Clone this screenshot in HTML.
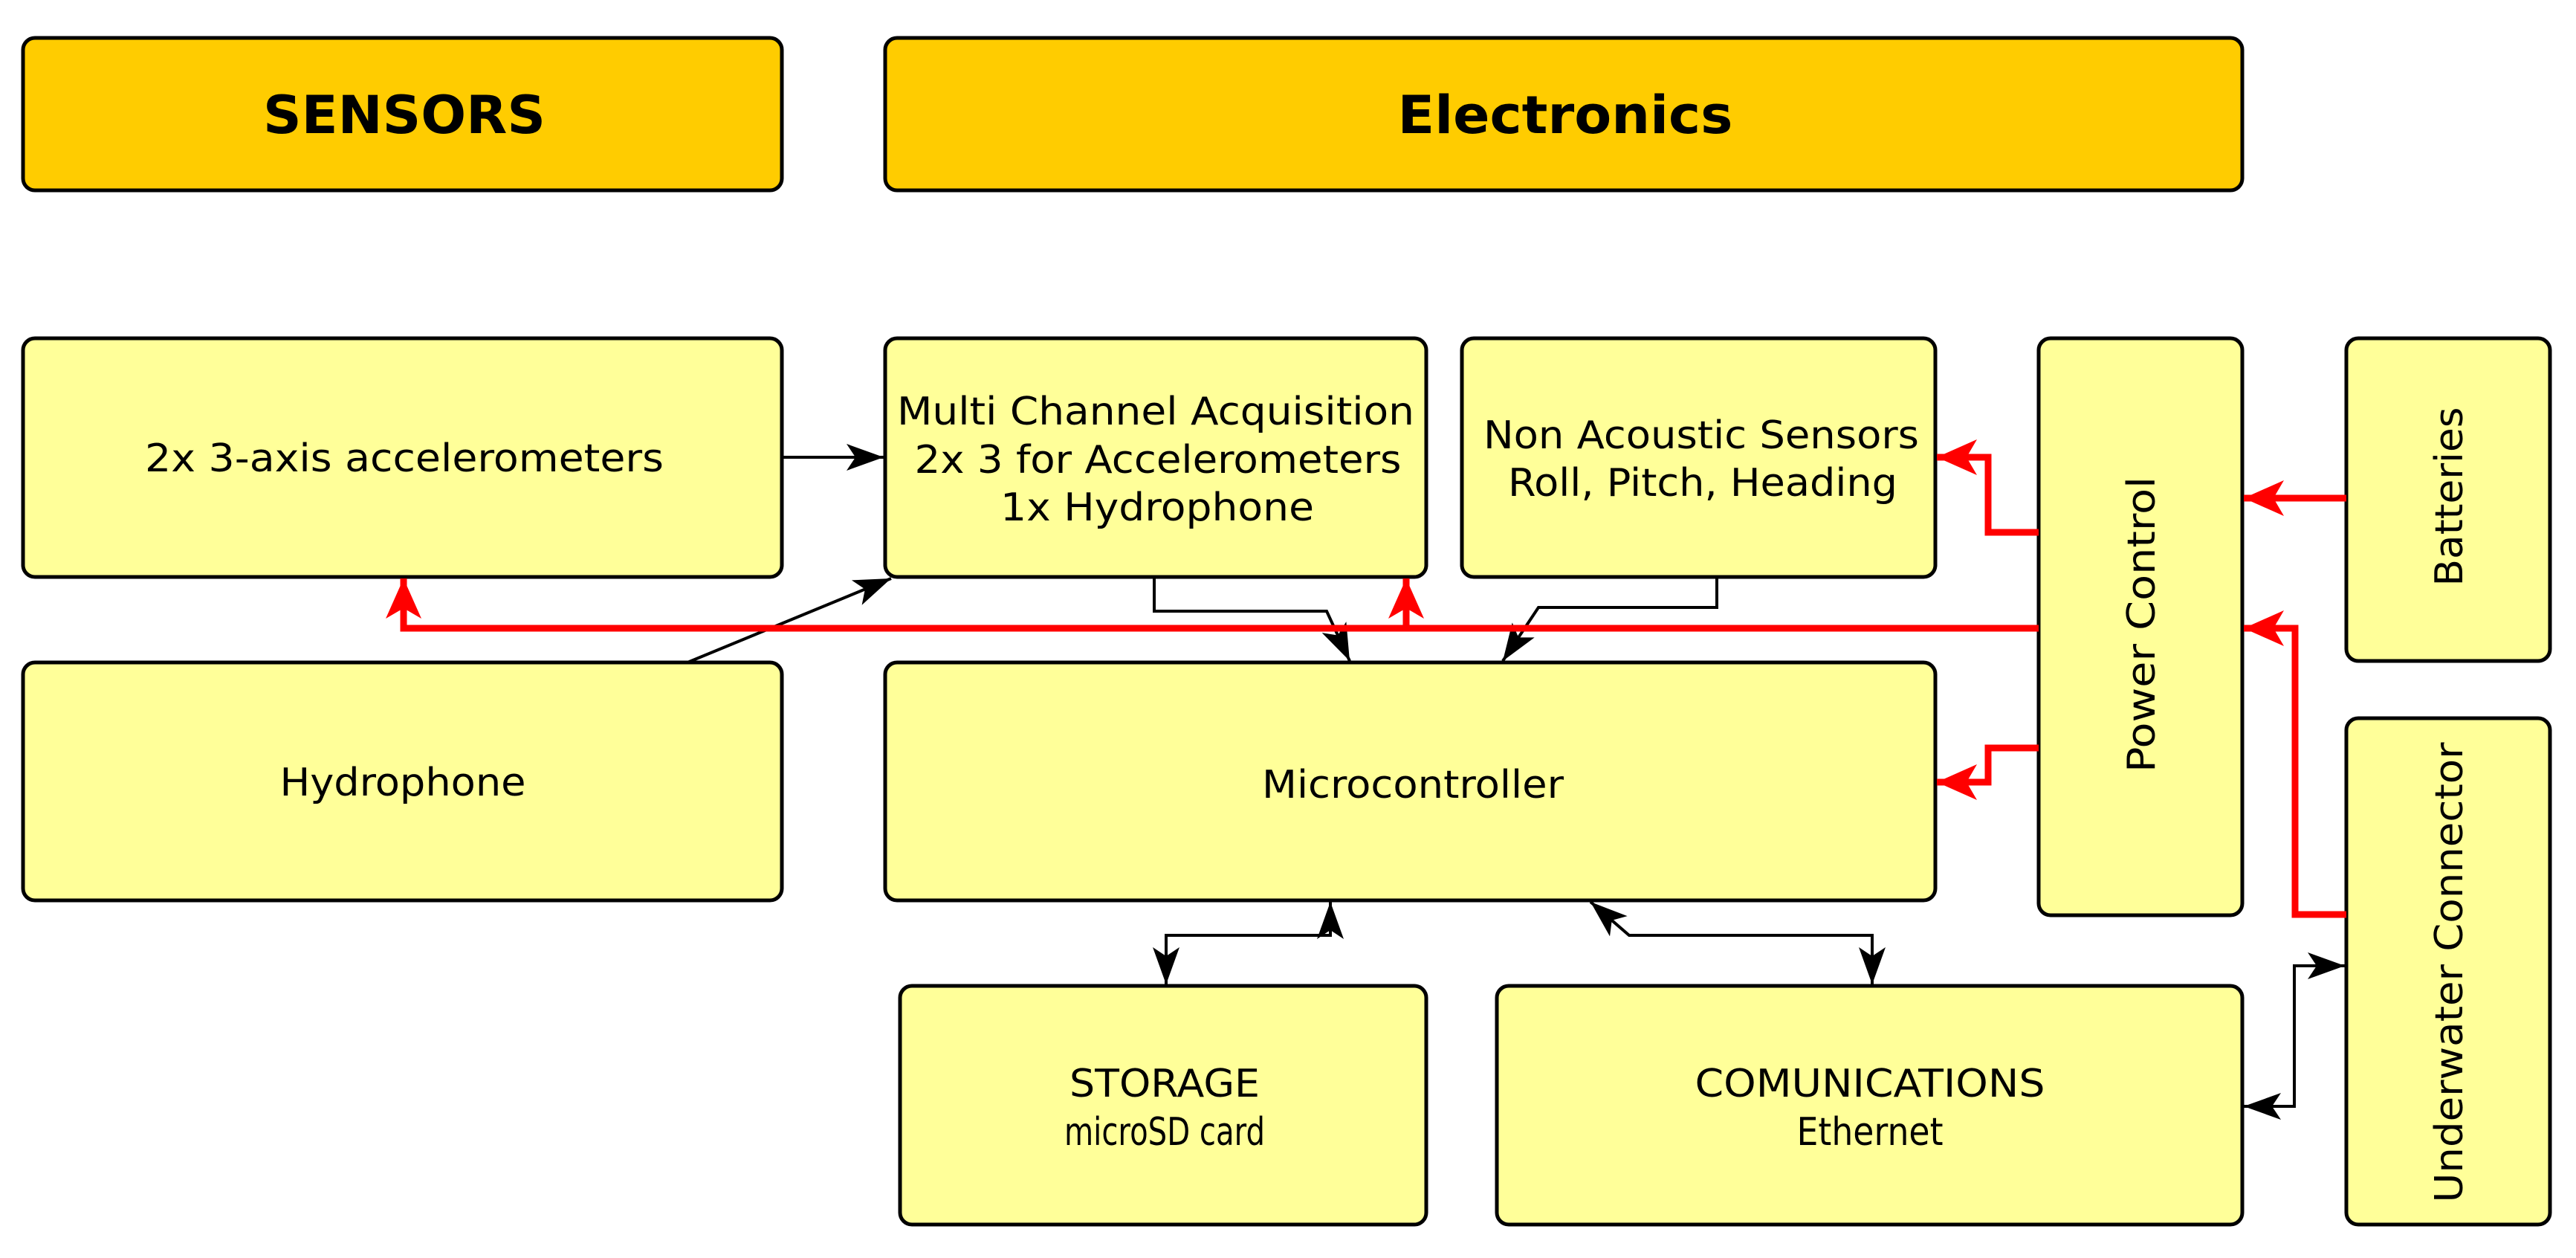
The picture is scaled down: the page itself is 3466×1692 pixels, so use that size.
<!DOCTYPE html>
<html><head><meta charset="utf-8"><style>html,body{margin:0;padding:0;background:#fff}svg{display:block}</style></head>
<body>
<svg width="3466" height="1692" viewBox="0 0 3466 1692" xmlns="http://www.w3.org/2000/svg" font-family="'DejaVu Sans','Liberation Sans',sans-serif">
<defs>
<marker id="ab" markerUnits="userSpaceOnUse" markerWidth="60" markerHeight="44" refX="50" refY="22" orient="auto-start-reverse">
<path d="M0,4 L50,22 L0,40 L12,22 Z" fill="#000"/>
</marker>
<marker id="ar" markerUnits="userSpaceOnUse" markerWidth="60" markerHeight="60" refX="54" refY="30" orient="auto">
<path d="M0,6 L54,30 L0,54 L14,30 Z" fill="#f00"/>
</marker>
</defs>
<g stroke="#000" stroke-width="5">
<rect x="31" y="51" width="1021" height="205" rx="16" fill="#ffcc00"/>
<rect x="1191" y="51" width="1826" height="205" rx="16" fill="#ffcc00"/>
<rect x="31" y="455" width="1021" height="321" rx="16" fill="#ffff99"/>
<rect x="1191" y="455" width="728" height="321" rx="16" fill="#ffff99"/>
<rect x="1967" y="455" width="637" height="321" rx="16" fill="#ffff99"/>
<rect x="2743" y="455" width="274" height="776" rx="16" fill="#ffff99"/>
<rect x="3157" y="455" width="274" height="434" rx="16" fill="#ffff99"/>
<rect x="31" y="891" width="1021" height="320" rx="16" fill="#ffff99"/>
<rect x="1191" y="891" width="1413" height="320" rx="16" fill="#ffff99"/>
<rect x="3157" y="966" width="274" height="681" rx="16" fill="#ffff99"/>
<rect x="1211" y="1326" width="708" height="321" rx="16" fill="#ffff99"/>
<rect x="2014" y="1326" width="1003" height="321" rx="16" fill="#ffff99"/>
</g>
<g fill="none" stroke="#000" stroke-width="4">
<path d="M1052,615 L1189,615" marker-end="url(#ab)"/>
<path d="M925,891 L1199,778" marker-end="url(#ab)"/>
<path d="M1553,776 L1553,822 L1785,822 L1816,889" marker-end="url(#ab)"/>
<path d="M2310,776 L2310,817 L2070,817 L2022,889" marker-end="url(#ab)"/>
<path d="M1569,1324 L1569,1258 L1790,1258 L1790,1213" marker-start="url(#ab)" marker-end="url(#ab)"/>
<path d="M2519,1324 L2519,1258 L2192,1258 L2140,1213" marker-start="url(#ab)" marker-end="url(#ab)"/>
<path d="M3019,1488 L3087,1488 L3087,1299 L3155,1299" marker-start="url(#ab)" marker-end="url(#ab)"/>
</g>
<g fill="none" stroke="#f00" stroke-width="9">
<path d="M2743,845 L543,845 L543,778" marker-end="url(#ar)"/>
<path d="M1892,845 L1892,778" marker-end="url(#ar)"/>
<path d="M2743,716 L2675,716 L2675,615 L2606,615" marker-end="url(#ar)"/>
<path d="M2743,1006 L2675,1006 L2675,1052 L2606,1052" marker-end="url(#ar)"/>
<path d="M3157,670 L3019,670" marker-end="url(#ar)"/>
<path d="M3157,1230 L3088,1230 L3088,845 L3019,845" marker-end="url(#ar)"/>
</g>
<g fill="#000" text-anchor="middle" font-size="52">
<text x="544" y="179" font-size="70" font-weight="bold" textLength="380" lengthAdjust="spacingAndGlyphs">SENSORS</text>
<text x="2106" y="179" font-size="70" font-weight="bold" textLength="451" lengthAdjust="spacingAndGlyphs">Electronics</text>
<text x="544" y="634" textLength="698" lengthAdjust="spacingAndGlyphs">2x 3-axis accelerometers</text>
<text x="1555" y="571" textLength="696" lengthAdjust="spacingAndGlyphs">Multi Channel Acquisition</text>
<text x="1558" y="636" textLength="655" lengthAdjust="spacingAndGlyphs">2x 3 for Accelerometers</text>
<text x="1557" y="700" textLength="422" lengthAdjust="spacingAndGlyphs">1x Hydrophone</text>
<text x="2289" y="603" textLength="586" lengthAdjust="spacingAndGlyphs">Non Acoustic Sensors</text>
<text x="2291" y="667" textLength="524" lengthAdjust="spacingAndGlyphs">Roll, Pitch, Heading</text>
<text x="542" y="1070" textLength="331" lengthAdjust="spacingAndGlyphs">Hydrophone</text>
<text x="1901" y="1073" textLength="406" lengthAdjust="spacingAndGlyphs">Microcontroller</text>
<text x="1567" y="1475" textLength="256" lengthAdjust="spacingAndGlyphs">STORAGE</text>
<text x="1567" y="1540" textLength="270" lengthAdjust="spacingAndGlyphs">microSD card</text>
<text x="2516" y="1475" textLength="471" lengthAdjust="spacingAndGlyphs">COMUNICATIONS</text>
<text x="2516" y="1540" textLength="197" lengthAdjust="spacingAndGlyphs">Ethernet</text>
<text transform="translate(2880,840) rotate(-90)" x="0" y="19" textLength="398" lengthAdjust="spacingAndGlyphs">Power Control</text>
<text transform="translate(3294,668) rotate(-90)" x="0" y="19" textLength="241" lengthAdjust="spacingAndGlyphs">Batteries</text>
<text transform="translate(3294,1308) rotate(-90)" x="0" y="19" textLength="619" lengthAdjust="spacingAndGlyphs">Underwater Connector</text>
</g>
</svg>
</body></html>
